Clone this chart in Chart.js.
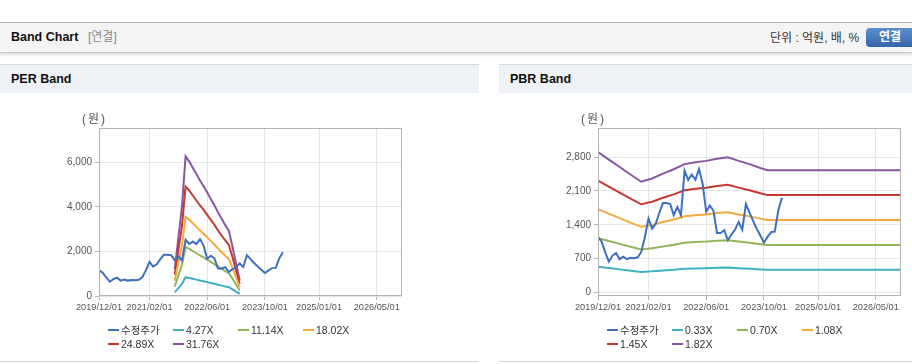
<!DOCTYPE html>
<html><head><meta charset="utf-8">
<script src="https://cdn.jsdelivr.net/npm/chart.js@4.4.0/dist/chart.umd.min.js"></script>
<style>
html,body{margin:0;padding:0;background:#fff;width:912px;height:364px;overflow:hidden;font-family:"Liberation Sans",Arial,"Noto Sans CJK KR",sans-serif;}
.abs{position:absolute;}
#topline{left:0;top:22px;width:912px;height:1px;background:#b3b3b3;}
#hdr{left:0;top:23px;width:912px;height:29px;background:#f4f4f4;border-bottom:1px solid #c4c4c4;box-shadow:0 2px 3px rgba(0,0,0,0.13);}
#hdr .t{position:absolute;left:11px;top:0;line-height:29px;font-weight:bold;font-size:12.5px;color:#111;}
#hdr .s{position:absolute;left:88px;top:0;line-height:29px;font-size:12px;color:#8a8a8a;}
#hdr .u{position:absolute;left:770px;top:1px;line-height:29px;font-size:12px;color:#333;}
#btn{position:absolute;left:866px;top:5px;width:52px;height:19px;border-radius:4px;background:linear-gradient(#5d8fd0,#3566aa);color:#fff;font-weight:bold;font-size:12px;line-height:19px;text-align:center;box-sizing:border-box;padding-right:4px;}
.ph{top:64px;height:28px;background:#eef2f7;border-top:1px solid #d6d6d6;}
.ph span{position:absolute;left:11px;top:0;line-height:28px;font-weight:bold;font-size:12.5px;color:#111;}
.pb{top:93px;height:268px;border-bottom:1px solid #d8d8d8;background:#fff;}
.cv{top:92px;height:272px;}
.unit{font-size:12px;color:#555;letter-spacing:2px;}
.lg{font-size:10.5px;color:#333;line-height:12px;}
.lg i{display:inline-block;width:11px;height:2px;vertical-align:middle;margin-right:2px;position:relative;top:-1px;}
</style></head>
<body>
<div id="topline" class="abs"></div>
<div id="hdr" class="abs"><span class="t">Band Chart</span><span class="s">[연결]</span><span class="u">단위 : 억원, 배, %</span><div id="btn">연결</div></div>

<div class="abs ph" style="left:0;width:479px;"><span>PER Band</span></div>
<div class="abs ph" style="left:499px;width:413px;"><span>PBR Band</span></div>
<div class="abs pb" style="left:0;width:479px;"></div>
<div class="abs pb" style="left:499px;width:413px;"></div>

<div class="abs cv" style="left:0;width:479px;"><canvas id="per" width="479" height="272"></canvas></div>
<div class="abs cv" style="left:499px;width:413px;"><canvas id="pbr" width="413" height="272"></canvas></div>

<div class="abs unit" style="left:82px;top:109px;">(원)</div>
<div class="abs unit" style="left:581px;top:109px;">(원)</div>

<div id="perLegend"></div>
<div id="pbrLegend"></div>

<script>
// ---------- data ----------
const xTickLabels = ['2019/12/01','2021/02/01','2022/06/01','2023/10/01','2025/01/01','2026/05/01'];
const xMaxDate = '2026/12';
const priceStart = '2019/12';
const priceName = '수정주가';
const priceValues = [1150,1050,830,640,760,820,690,740,690,720,710,730,840,1150,1530,1320,1420,1650,1850,1850,
  1830,1600,1770,1600,2520,2330,2440,2330,2550,2250,1670,1800,1690,1230,1230,1290,1080,1200,1300,1460,
  1300,1830,1650,1480,1320,1180,1030,1150,1250,1260,1700,1960];

const perNames = ['4.27X','11.14X','18.02X','24.89X','31.76X'];
const perDates = ['2021/09','2021/10','2021/11','2021/12','2022/01','2022/02','2022/03','2022/04','2022/05','2022/06',
  '2022/07','2022/08','2022/09','2022/10','2022/11','2022/12','2023/01','2023/02','2023/03'];
const per427  = [162,350,538,841,811,773,734,696,662,623,585,547,504,465,427,393,299,196,94];
const per1114 = [423,913,1404,2195,2117,2016,1916,1816,1727,1626,1526,1426,1315,1214,1114,1025,780,512,245];
const per1802 = [685,1478,2271,3550,3424,3262,3099,2937,2793,2631,2469,2307,2126,1964,1802,1658,1261,829,396];
const per2489 = [946,2041,3136,4903,4729,4505,4281,4057,3858,3634,3410,3186,2937,2713,2489,2290,1742,1145,548];
const per3176 = [1207,2604,4002,6257,6034,5749,5463,5177,4923,4637,4351,4065,3748,3462,3176,2922,2223,1461,699];
const perYTicks = [0,2000,4000,6000];

const pbrNames = ['0.33X','0.70X','1.08X','1.45X','1.82X'];
const pbrDates = ['2019/12','2020/03','2020/06','2020/09','2020/12','2021/03','2021/06','2021/09','2021/12','2022/03',
  '2022/06','2022/09','2022/12','2023/03','2023/06','2023/09','2023/11','2026/12'];
const pbr033 = [535,508,480,452,428,440,458,474,492,498,503,512,517,503,492,478,470,470];
const pbr070 = [1125,1065,1006,946,890,915,952,988,1028,1043,1055,1072,1083,1055,1030,1000,985,985];
const pbr108 = [1723,1631,1539,1447,1359,1399,1458,1512,1575,1597,1615,1642,1658,1615,1575,1528,1500,1500];
const pbr145 = [2313,2190,2066,1943,1824,1878,1958,2030,2114,2145,2168,2204,2226,2168,2114,2052,2014,2014];
const pbr182 = [2903,2748,2594,2439,2290,2357,2457,2548,2654,2692,2721,2766,2794,2721,2654,2575,2528,2528];
const pbrYTicks = [0,700,1400,2100,2800];

const colors = ['#3e70c2','#3fb0c4','#93b55a','#f4a93c','#c43a2f','#8a55a0'];

// ---------- helpers ----------
function monthIndex(s){ const p = s.split('/').map(Number); return (p[0]-2019)*12 + (p[1]-12); }
function toPts(dates, vals){ return vals.map((v,i)=>({x:monthIndex(dates[i]), y:v})); }
const priceDates = priceValues.map((_,i)=>{ const s0 = monthIndex(priceStart)+i; const y = 2019 + Math.floor((s0+11)/12); const m = ((s0+11)%12)+1; return y+'/'+String(m).padStart(2,'0'); });
const xTickPos = xTickLabels.map(monthIndex);
const fmt = v => v.toLocaleString('en-US');

const boxPlugin = {
  id:'box',
  afterDatasetsDraw(chart){
    const a = chart.chartArea, c = chart.ctx;
    c.save(); c.strokeStyle='#b4b4b4'; c.lineWidth=1;
    c.strokeRect(Math.round(a.left)+0.5, Math.round(a.top)+0.5, Math.round(a.right-a.left)-1, Math.round(a.bottom-a.top)-1);
    c.restore();
  }
};

function makeChart(id, bandDates, bands, names, yMin, yMax, yTicks, rightPad){
  const ds = [{label:priceName, data:toPts(priceDates, priceValues), borderColor:colors[0]}];
  bands.forEach((b,i)=>ds.push({label:names[i], data:toPts(bandDates,b), borderColor:colors[i+1]}));
  ds.forEach(d=>{ d.borderWidth=2; d.pointRadius=0; d.fill=false; d.tension=0; });
  return new Chart(document.getElementById(id), {
    type:'line',
    data:{datasets:ds},
    options:{
      responsive:false, animation:false,
      layout:{padding:{top:36,left:0,right:rightPad,bottom:0}},
      plugins:{legend:{display:false}, tooltip:{enabled:false}},
      scales:{
        x:{type:'linear', min:0, max:monthIndex(xMaxDate),
          afterBuildTicks:s=>{ s.ticks = xTickPos.map(v=>({value:v})); },
          afterFit:s=>{ s.height = 68; },
          grid:{color:'#e6e6e6', tickColor:'#b4b4b4', tickLength:4},
          border:{display:false},
          ticks:{autoSkip:false, maxRotation:0, padding:2, color:'#555', font:{family:'"Liberation Sans", Arial', size:9.2},
            callback:(v)=>{ const k = xTickPos.indexOf(v); return k>=0 ? xTickLabels[k] : ''; }}
        },
        y:{min:yMin, max:yMax,
          afterBuildTicks:s=>{ s.ticks = yTicks.map(v=>({value:v})); },
          afterFit:s=>{ s.width = 99; },
          grid:{color:'#e6e6e6', tickColor:'#b4b4b4', tickLength:4},
          border:{display:false},
          ticks:{padding:3, color:'#555', font:{family:'"Liberation Sans", Arial', size:10}, callback:v=>fmt(v)}
        }
      }
    },
    plugins:[boxPlugin]
  });
}

makeChart('per', perDates, [per427,per1114,per1802,per2489,per3176], perNames, 0, 7530, perYTicks, 77);
makeChart('pbr', pbrDates, [pbr033,pbr070,pbr108,pbr145,pbr182], pbrNames, -70, 3400, pbrYTicks, 11);

function legend(elId, left, names){
  const all = [priceName].concat(names);
  const el = document.getElementById(elId);
  all.forEach((n,i)=>{
    const col = i%4, row = Math.floor(i/4);
    const d = document.createElement('div');
    d.className='abs lg';
    d.style.left = (left + col*65) + 'px';
    d.style.top = (324 + row*13.5) + 'px';
    d.innerHTML = '<i style="background:'+colors[i]+'"></i>' + n;
    el.appendChild(d);
  });
}
legend('perLegend', 108, perNames);
legend('pbrLegend', 607, pbrNames);
</script>
</body></html>
